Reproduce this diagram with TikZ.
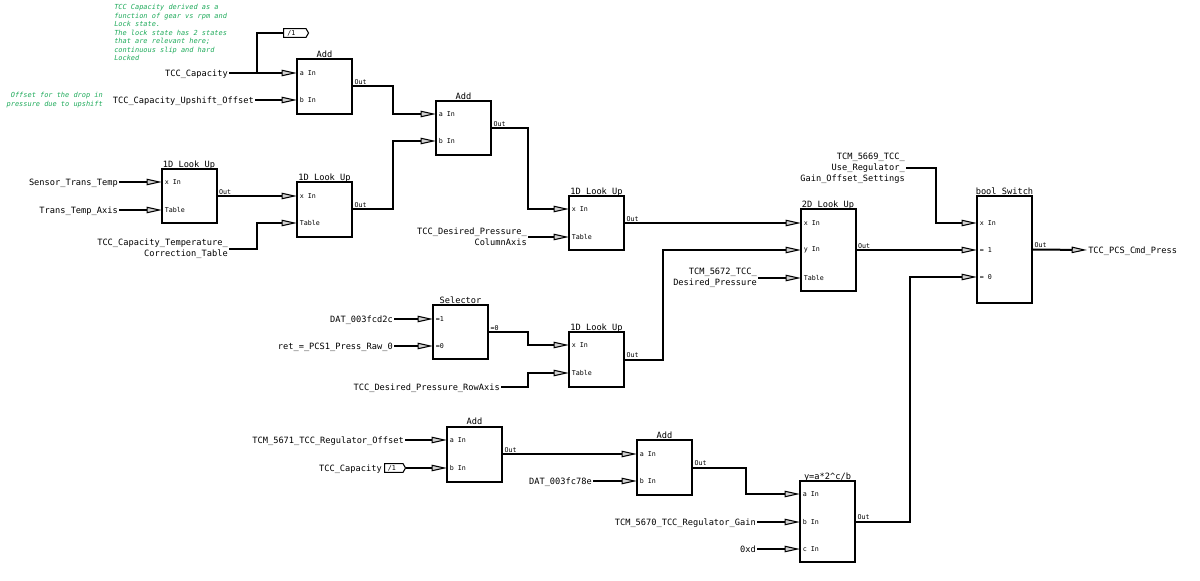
\documentclass[tikz,border=0pt]{standalone}
\usepackage{fontspec}
\setmonofont{DejaVu Sans Mono}
\usetikzlibrary{arrows.meta,shapes.symbols}
\definecolor{cmtgreen}{RGB}{30,170,90}
\begin{document}
\begin{tikzpicture}[x=0.75pt,y=-0.75pt,
  wire/.style={line width=1.5pt, line join=miter},
  arr/.style={wire, -{Triangle[length=11.5pt,width=4.8pt,fill=gray!35,line width=0.8pt]}},
  blk/.style={draw, line width=1.5pt, minimum width=41.25pt, inner sep=0pt, fill=white},
  lbl/.style={font=\ttfamily\fontsize{6.5}{8.2}\selectfont, inner sep=0.75pt, anchor=east, text height=0.72em, text depth=0.25em},
  mlbl/.style={font=\ttfamily\fontsize{6.5}{8.2}\selectfont, inner sep=0.75pt, anchor=east, align=right},
  port/.style={font=\ttfamily\fontsize{5}{6}\selectfont, inner sep=0pt, anchor=west},
  outl/.style={font=\ttfamily\fontsize{5}{6}\selectfont, inner sep=1pt, anchor=south west},
  ttl/.style={font=\ttfamily\fontsize{6.5}{8}\selectfont, inner sep=0pt, anchor=base},
  cmt/.style={font=\ttfamily\itshape\fontsize{5.2}{6.4}\selectfont, text=cmtgreen, inner sep=0pt},
  tag/.style={draw, line width=0.8pt, signal, signal to=east, signal pointer angle=120, minimum height=6.5pt, inner sep=0.5pt, font=\ttfamily\fontsize{5}{6}\selectfont}
]
\useasboundingbox (0,0) rectangle (1200,581);

% comments
\node[cmt, anchor=north west, align=left] (c1) at (114,4) {TCC Capacity derived as a\\function of gear vs rpm and\\Lock state.\\The lock state has 2 states\\that are relevant here;\\continuous slip and hard\\Locked};
\node[cmt, anchor=east, align=right] (c2) at (103,100) {Offset for the drop in\\pressure due to upshift};

% blocks
\node[blk, minimum height=41.25pt] (add1) at (324.5,86.5) {};
\node[blk, minimum height=40.5pt] (add2) at (463.5,128) {};
\node[blk, minimum height=40.5pt] (lu1) at (189,196) {};
\node[blk, minimum height=41.25pt] (lu2) at (324.5,209.5) {};
\node[blk, minimum height=40.5pt] (lu3) at (596.5,223) {};
\node[blk, minimum height=41.25pt] (lu4) at (596.5,359.5) {};
\node[blk, minimum height=61.5pt] (lu2d) at (828,250) {};
\node[blk, minimum height=40.5pt] (sel) at (460.5,332) {};
\node[blk, minimum height=80.25pt] (bsw) at (1004.5,249.5) {};
\node[blk, minimum height=41.25pt] (add3) at (474.5,454) {};
\node[blk, minimum height=41.25pt] (add4) at (664.5,467.5) {};
\node[blk, minimum height=60.75pt] (pow) at (827.5,521.5) {};

% titles
\node[ttl] (add1t) at ([yshift=0.4pt]add1.north) {Add};
\node[ttl] (add2t) at ([yshift=0.4pt]add2.north) {Add};
\node[ttl] (lu1ti) at ([yshift=0.4pt]lu1.north) {1D Look Up};
\node[ttl] (lu2ti) at ([yshift=0.4pt]lu2.north) {1D Look Up};
\node[ttl] (lu3ti) at ([yshift=0.4pt]lu3.north) {1D Look Up};
\node[ttl] (lu4ti) at ([yshift=0.4pt]lu4.north) {1D Look Up};
\node[ttl] (lu2dti) at ([yshift=0.4pt]lu2d.north) {2D Look Up};
\node[ttl] (selti) at ([yshift=0.4pt]sel.north) {Selector};
\node[ttl] (bswti) at ([yshift=0.4pt]bsw.north) {bool Switch};
\node[ttl] (add3t) at ([yshift=0.4pt]add3.north) {Add};
\node[ttl] (add4t) at ([yshift=0.4pt]add4.north) {Add};
\node[ttl] (powti) at ([yshift=0.4pt]pow.north) {y=a*2\textasciicircum c/b};

% port coordinates
\coordinate (add1a) at (297,73);   \coordinate (add1b) at (297,100);
\coordinate (add2a) at (436,114);  \coordinate (add2b) at (436,141);
\coordinate (lu1x) at (162,182);   \coordinate (lu1tb) at (162,210);
\coordinate (lu2x) at (297,196);   \coordinate (lu2tb) at (297,223);
\coordinate (lu3x) at (569,209);   \coordinate (lu3tb) at (569,237);
\coordinate (lu4x) at (569,345);   \coordinate (lu4tb) at (569,373);
\coordinate (lu2dx) at (801,223);  \coordinate (lu2dy) at (801,250); \coordinate (lu2dtb) at (801,278);
\coordinate (sel1) at (433,319);   \coordinate (sel0) at (433,346);
\coordinate (bswx) at (977,223);   \coordinate (bsw1) at (977,250); \coordinate (bsw0) at (977,277);
\coordinate (add3a) at (447,440);  \coordinate (add3b) at (447,468);
\coordinate (add4a) at (637,454);  \coordinate (add4b) at (637,481);
\coordinate (powa) at (800,494);   \coordinate (powb) at (800,522); \coordinate (powc) at (800,549);

% port labels
\node[port] (p1) at ([xshift=2pt]add1a) {a In};
\node[port] (p2) at ([xshift=2pt]add1b) {b In};
\node[port] (p3) at ([xshift=2pt]add2a) {a In};
\node[port] (p4) at ([xshift=2pt]add2b) {b In};
\node[port] (p5) at ([xshift=2pt]lu1x) {x In};
\node[port] (p6) at ([xshift=2pt]lu1tb) {Table};
\node[port] (p7) at ([xshift=2pt]lu2x) {x In};
\node[port] (p8) at ([xshift=2pt]lu2tb) {Table};
\node[port] (p9) at ([xshift=2pt]lu3x) {x In};
\node[port] (p10) at ([xshift=2pt]lu3tb) {Table};
\node[port] (p11) at ([xshift=2pt]lu4x) {x In};
\node[port] (p12) at ([xshift=2pt]lu4tb) {Table};
\node[port] (p13) at ([xshift=2pt]lu2dx) {x In};
\node[port] (p14) at ([xshift=2pt]lu2dy) {y In};
\node[port] (p15) at ([xshift=2pt]lu2dtb) {Table};
\node[port] (p16) at ([xshift=2pt]sel1) {=1};
\node[port] (p17) at ([xshift=2pt]sel0) {=0};
\node[port] (p18) at ([xshift=2pt]bswx) {x In};
\node[port] (p19) at ([xshift=2pt]bsw1) {= 1};
\node[port] (p20) at ([xshift=2pt]bsw0) {= 0};
\node[port] (p21) at ([xshift=2pt]add3a) {a In};
\node[port] (p22) at ([xshift=2pt]add3b) {b In};
\node[port] (p23) at ([xshift=2pt]add4a) {a In};
\node[port] (p24) at ([xshift=2pt]add4b) {b In};
\node[port] (p25) at ([xshift=2pt]powa) {a In};
\node[port] (p26) at ([xshift=2pt]powb) {b In};
\node[port] (p27) at ([xshift=2pt]powc) {c In};

% out labels
\node[outl] (o1) at (add1.east) {Out};
\node[outl] (o2) at (add2.east) {Out};
\node[outl] (o3) at (lu1.east) {Out};
\node[outl] (o4) at (lu2.east) {Out};
\node[outl] (o5) at (lu3.east) {Out};
\node[outl] (o6) at (lu4.east) {Out};
\node[outl] (o7) at (lu2d.east) {Out};
\node[outl] (o8) at (sel.east) {=0};
\node[outl] (o9) at (bsw.east) {Out};
\node[outl] (o10) at (add3.east) {Out};
\node[outl] (o11) at (add4.east) {Out};
\node[outl] (o12) at (pow.east) {Out};

% source labels
\node[lbl] (cap1) at (229,73) {TCC\_Capacity};
\node[lbl] (ups) at (255,100) {TCC\_Capacity\_Upshift\_Offset};
\node[lbl] (sen) at (119,182) {Sensor\_Trans\_Temp};
\node[lbl] (tta) at (119,210) {Trans\_Temp\_Axis};
\node[mlbl] (tct) at (229,249) {TCC\_Capacity\_Temperature\_\\Correction\_Table};
\node[mlbl] (tdpc) at (528,237) {TCC\_Desired\_Pressure\_\\ColumnAxis};
\node[mlbl] (t5672) at (758,278) {TCM\_5672\_TCC\_\\Desired\_Pressure};
\node[mlbl] (t5669) at (906,168) {TCM\_5669\_TCC\_\\Use\_Regulator\_\\Gain\_Offset\_Settings};
\node[lbl] (dat2c) at (394,319) {DAT\_003fcd2c};
\node[lbl] (ret) at (394,346) {ret\_=\_PCS1\_Press\_Raw\_0};
\node[lbl] (row) at (501,387) {TCC\_Desired\_Pressure\_RowAxis};
\node[lbl] (t5671) at (405,440) {TCM\_5671\_TCC\_Regulator\_Offset};
\node[lbl] (cap2) at (383,468) {TCC\_Capacity};
\node[lbl] (dat8e) at (593,481) {DAT\_003fc78e};
\node[lbl] (t5670) at (757,522) {TCM\_5670\_TCC\_Regulator\_Gain};
\node[lbl] (oxd) at (757,549) {0xd};
\node[lbl, anchor=west] (outp) at (1087,250) {TCC\_PCS\_Cmd\_Press};

% tags
\node[tag, minimum width=18.75pt, anchor=west, text width=11pt] (tag1) at (283,33) {/1};
\node[tag, minimum width=15.75pt, anchor=west, text width=9pt] (tag2) at (384,468) {/1};

% wires
\coordinate (j1) at (257,73);
\draw[arr] (cap1.east) -- (add1a);
\draw[wire] (j1) |- (tag1.west);
\draw[arr] (ups.east) -- (add1b);
\draw[arr] (add1.east) -| (393,114) -- (add2a);
\draw[arr] (lu2.east) -| (393,141) -- (add2b);
\draw[arr] (add2.east) -| (528,209) -- (lu3x);
\draw[arr] (sen.east) -- (lu1x);
\draw[arr] (tta.east) -- (lu1tb);
\draw[arr] (lu1.east) -- (lu2x);
\draw[arr] (tct.east) -| (257,223) -- (lu2tb);
\draw[arr] (tdpc.east) -- (lu3tb);
\draw[arr] (lu3.east) -- (lu2dx);
\draw[arr] (lu4.east) -| (663,250) -- (lu2dy);
\draw[arr] (t5672.east) -- (lu2dtb);
\draw[arr] (lu2d.east) -- (bsw1);
\draw[arr] (t5669.east) -| (936,223) -- (bswx);
\draw[arr] (bsw.east) -- (outp.west);
\draw[arr] (dat2c.east) -- (sel1);
\draw[arr] (ret.east) -- (sel0);
\draw[arr] (sel.east) -| (528,345) -- (lu4x);
\draw[arr] (row.east) -| (528,373) -- (lu4tb);
\draw[arr] (t5671.east) -- (add3a);
\draw[arr] (tag2.east) -- (add3b);
\draw[arr] (add3.east) -- (add4a);
\draw[arr] (dat8e.east) -- (add4b);
\draw[arr] (add4.east) -| (746,494) -- (powa);
\draw[arr] (t5670.east) -- (powb);
\draw[arr] (oxd.east) -- (powc);
\draw[arr] (pow.east) -| (910,277) -- (bsw0);
\end{tikzpicture}
\end{document}
